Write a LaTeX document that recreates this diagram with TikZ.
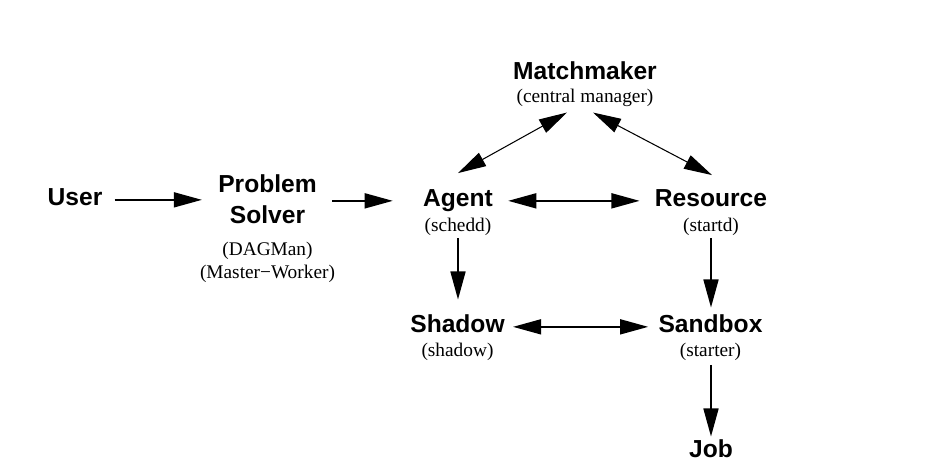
\documentclass[tikz,border=0pt]{standalone}
\usepackage{fontspec}
\setmainfont{Liberation Serif}
\newfontfamily\namefont{Liberation Sans}
\usetikzlibrary{arrows.meta,calc}

\begin{document}
\begin{tikzpicture}[x=0.02cm,y=-0.02cm,
    entity/.style={font=\namefont\bfseries\fontsize{14}{17.6}\selectfont,
      inner sep=0pt,anchor=base,text height=10pt,text depth=3pt},
    subtext/.style={font=\fontsize{11}{13}\selectfont,inner sep=0pt,anchor=base},
    arr/.style={line width=1.1pt,-{Triangle[length=16pt,width=8.5pt]}},
    dbl/.style={line width=1.1pt,{Triangle[length=16pt,width=8.5pt]}-{Triangle[length=16pt,width=8.5pt]}},
    diag/.style={line width=0.6pt,{Triangle[length=16pt,width=8.5pt]}-{Triangle[length=16pt,width=8.5pt]}}]

  \useasboundingbox (0,0) rectangle (931,476);

  % ---- Nodes -------------------------------------------------
  \node[entity] (mm) at (585,80) {Matchmaker};
  \node[subtext] (mmsub) at (585,103) {(central manager)};

  \node[entity] (user) at (75,206) {User};

  \node[font=\namefont\bfseries\fontsize{14}{17.6}\selectfont,
    inner sep=0pt,align=center] (ps) at (267.5,199.5) {Problem\\Solver};
  \node[font=\fontsize{11}{13}\selectfont,inner sep=0pt,align=center,
    anchor=north] (pssub) at (267.5,242) {(DAGMan)\\(Master−Worker)};

  \node[entity] (agent) at (458,207) {Agent};
  \node[subtext] (agentsub) at (458,232) {(schedd)};

  \node[entity] (res) at (711,207) {Resource};
  \node[subtext] (ressub) at (711,232) {(startd)};

  \node[entity] (shadow) at (457.5,333) {Shadow};
  \node[subtext] (shadowsub) at (457.5,357) {(shadow)};

  \node[entity] (sandbox) at (710.5,333) {Sandbox};
  \node[subtext] (sandboxsub) at (710.5,357) {(starter)};

  \node[entity] (job) at (711,458) {Job};

  % ---- Connectors --------------------------------------------
  \draw[arr,shorten <=0.24cm,shorten >=0.32cm]
    (user.east) -- (user.east -| ps.west);
  \draw[arr,shorten <=0.3cm,shorten >=0.6cm]
    (agent.west -| ps.east) -- (agent.west);
  \draw[dbl,shorten <=0.3cm,shorten >=0.3cm] (agent.east) -- (res.west);
  \draw[dbl,shorten <=0.16cm,shorten >=0.2cm] (shadow.east) -- (sandbox.west);

  \draw[arr,shorten <=0.04cm,shorten >=0.31cm]
    (agentsub.south) -- (agentsub.south |- shadow.north);
  \draw[arr,shorten <=0.04cm,shorten >=0.15cm]
    (ressub.south) -- (ressub.south |- sandbox.north);
  \draw[arr,shorten <=0.07cm,shorten >=0.07cm]
    (job.north |- sandboxsub.south) -- (job.north);

  % Matchmaker links
  \draw[diag] ($(agent.north)+(0,-16)$) -- ($(mmsub.south)+(-18,5)$);
  \draw[diag] ($(mmsub.south)+(8,5)$) -- ($(res.north)+(1,-14)$);

\end{tikzpicture}
\end{document}
